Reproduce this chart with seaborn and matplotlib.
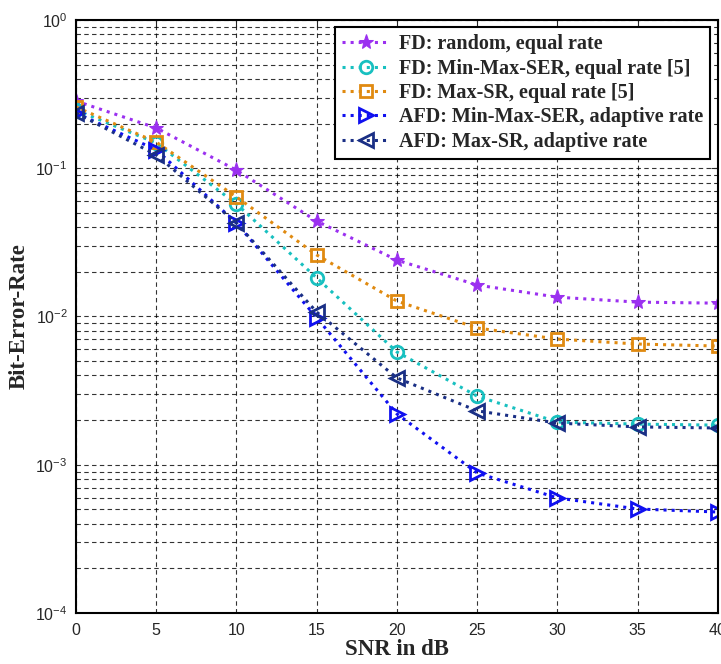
import numpy as np
import pandas as pd
import matplotlib
matplotlib.use("Agg")
import matplotlib.pyplot as plt
import seaborn as sns
from matplotlib.ticker import LogLocator, NullFormatter

snr = [0, 5, 10, 15, 20, 25, 30, 35, 40]
fd_random = [0.284, 0.187, 0.097, 0.044, 0.024, 0.0163, 0.0135, 0.0125, 0.0123]
fd_minmax = [0.247, 0.148, 0.0574, 0.0182, 0.00576, 0.0029, 0.00194, 0.00188, 0.00185]
fd_maxsr = [0.259, 0.150, 0.064, 0.026, 0.0127, 0.00836, 0.00704, 0.00652, 0.00632]
afd_minmax = [0.236, 0.133, 0.0427, 0.0098, 0.0022, 0.00088, 0.000597, 0.000503, 0.00048]
afd_maxsr = [0.236, 0.123, 0.0427, 0.0107, 0.00385, 0.00231, 0.00191, 0.0018, 0.00177]

labels = ["FD: random, equal rate",
          "FD: Min-Max-SER, equal rate [5]",
          "FD: Max-SR, equal rate [5]",
          "AFD: Min-Max-SER, adaptive rate",
          "AFD: Max-SR, adaptive rate"]
series = [fd_random, fd_minmax, fd_maxsr, afd_minmax, afd_maxsr]

sns.set_style("white")
plt.rcParams['font.family'] = ['Liberation Sans', 'DejaVu Sans']
plt.rcParams['mathtext.default'] = 'regular'

fig = plt.figure(figsize=(7.21, 6.64), dpi=100)
ax = fig.add_axes([0.1054, 0.0768, 0.8904, 0.8931])

styles = [
    dict(color="#9B30F0", marker="*", markersize=11, markerfacecolor="#9B30F0", markeredgecolor="#9B30F0"),
    dict(color="#18C0C0", marker="o", markersize=9, markerfacecolor="none", markeredgecolor="#18C0C0", markeredgewidth=2),
    dict(color="#E08A10", marker="s", markersize=9, markerfacecolor="none", markeredgecolor="#E08A10", markeredgewidth=2),
    dict(color="#1010F0", marker=">", markersize=10, markerfacecolor="none", markeredgecolor="#1010F0", markeredgewidth=2),
    dict(color="#1A2F85", marker="<", markersize=10, markerfacecolor="none", markeredgecolor="#1A2F85", markeredgewidth=2),
]

for lab, vals, st in zip(labels, series, styles):
    df = pd.DataFrame({"SNR": snr, "BER": vals})
    sns.lineplot(data=df, x="SNR", y="BER", ax=ax, label=lab, linestyle=":", linewidth=2.2, **st)

ax.set_yscale("log")
ax.set_xlim(0, 40)
ax.set_ylim(1e-4, 1)
ax.set_xticks(snr)
ax.yaxis.set_major_locator(LogLocator(base=10, numticks=10))
ax.yaxis.set_minor_locator(LogLocator(base=10, subs=np.arange(2, 10), numticks=20))
ax.yaxis.set_minor_formatter(NullFormatter())

ax.grid(True, which="major", axis="both", linestyle=(0, (4, 3)), color="black", linewidth=0.8, alpha=0.8)
ax.grid(True, which="minor", axis="y", linestyle=(0, (4, 3)), color="black", linewidth=0.8, alpha=0.8)

ax.tick_params(axis="both", which="both", direction="in", top=True, right=True, labelsize=11.5)
ax.tick_params(axis="x", which="major", pad=7)
ax.tick_params(axis="y", which="major", pad=6)
ax.tick_params(axis="both", which="major", length=5)
ax.tick_params(axis="y", which="minor", length=3)
for sp in ax.spines.values():
    sp.set_color("black")
    sp.set_linewidth(1.5)

ax.set_xlabel("SNR in dB", fontfamily="Liberation Serif", fontweight="bold", fontsize=16.5, labelpad=1)
ax.set_ylabel("Bit-Error-Rate", fontfamily="Liberation Serif", fontweight="bold", fontsize=16.5, labelpad=4)

leg = ax.legend(loc="upper right", bbox_to_anchor=(0.988, 0.988), fancybox=False, framealpha=1,
                edgecolor="black", prop=dict(family="Liberation Serif", weight="bold", size=14.5),
                handlelength=2.4, handletextpad=0.45, labelspacing=0.22, borderpad=0.35, borderaxespad=0)
leg.get_frame().set_linewidth(1.5)

fig.savefig("out.png", dpi=100)
